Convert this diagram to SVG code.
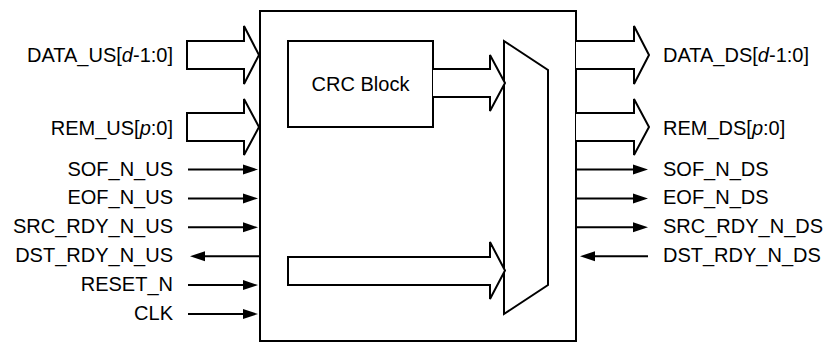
<svg xmlns="http://www.w3.org/2000/svg" width="825" height="343" viewBox="0 0 825 343">
<style>
.ln{stroke:#000;stroke-width:2;fill:none}
.sh{stroke:#000;stroke-width:2;fill:#fff;stroke-linejoin:miter}
.t{font-family:"Liberation Sans",Arial,Helvetica,sans-serif;font-size:20px;fill:#000}
.l{text-anchor:end}
.c{text-anchor:middle}
.i{font-style:italic}
</style>
<defs>
<marker id="ah" markerUnits="userSpaceOnUse" markerWidth="16" markerHeight="12" refX="1" refY="5" orient="auto" overflow="visible">
<path d="M0,0 L15,5 L0,10 z" fill="#000"/>
</marker>
</defs>
<rect width="825" height="343" fill="#fff"/>
<g id="main-block">
<rect class="sh" x="260" y="11" width="316" height="330"/>
</g>
<g id="crc-block">
<rect class="sh" x="288" y="41" width="145" height="86"/>
<text class="t c" x="360.5" y="91">CRC Block</text>
</g>
<g id="mux">
<polygon class="sh" points="504,41 548,70 548,285 504,314"/>
</g>
<g id="connectors">
<polygon class="sh" points="187,41 244,41 244,26 259,55 244,84 244,69 187,69"/>
<polygon class="sh" points="187,113 244,113 244,99 259,127 244,155 244,141 187,141"/>
<polyline class="sh" points="576,41 634,41 634,26 649,55 634,84 634,69 576,69"/>
<polyline class="sh" points="576,113 634,113 634,99 649,127 634,155 634,141 576,141"/>
<polyline class="sh" points="433,69 490,69 490,55 505,83 490,111 490,97 433,97"/>
<polygon class="sh" points="288,257 490,257 490,242 505,270.5 490,299 490,285 288,285"/>
<line class="ln" x1="188" y1="169.5" x2="244" y2="169.5" marker-end="url(#ah)"/>
<line class="ln" x1="188" y1="198.4" x2="244" y2="198.4" marker-end="url(#ah)"/>
<line class="ln" x1="188" y1="227.3" x2="244" y2="227.3" marker-end="url(#ah)"/>
<line class="ln" x1="259" y1="256.2" x2="204" y2="256.2" marker-end="url(#ah)"/>
<line class="ln" x1="188" y1="285.1" x2="244" y2="285.1" marker-end="url(#ah)"/>
<line class="ln" x1="188" y1="314" x2="244" y2="314" marker-end="url(#ah)"/>
<line class="ln" x1="576" y1="169.5" x2="634" y2="169.5" marker-end="url(#ah)"/>
<line class="ln" x1="576" y1="198.4" x2="634" y2="198.4" marker-end="url(#ah)"/>
<line class="ln" x1="576" y1="227.3" x2="634" y2="227.3" marker-end="url(#ah)"/>
<line class="ln" x1="648" y1="256.2" x2="594" y2="256.2" marker-end="url(#ah)"/>
</g>
<g id="labels-left">
<text class="t l" x="173" y="62">DATA_US[<tspan class="i">d</tspan>-1:0]</text>
<text class="t l" x="173" y="135">REM_US[<tspan class="i">p</tspan>:0]</text>
<text class="t l" x="173" y="175.5">SOF_N_US</text>
<text class="t l" x="173" y="204.4">EOF_N_US</text>
<text class="t l" x="173" y="233.3">SRC_RDY_N_US</text>
<text class="t l" x="173" y="262.2">DST_RDY_N_US</text>
<text class="t l" x="173" y="291.1">RESET_N</text>
<text class="t l" x="173" y="320">CLK</text>
</g>
<g id="labels-right">
<text class="t" x="663" y="62">DATA_DS[<tspan class="i">d</tspan>-1:0]</text>
<text class="t" x="663" y="135">REM_DS[<tspan class="i">p</tspan>:0]</text>
<text class="t" x="663" y="175.5">SOF_N_DS</text>
<text class="t" x="663" y="204.4">EOF_N_DS</text>
<text class="t" x="663" y="233.3">SRC_RDY_N_DS</text>
<text class="t" x="663" y="262.2">DST_RDY_N_DS</text>
</g>
</svg>
